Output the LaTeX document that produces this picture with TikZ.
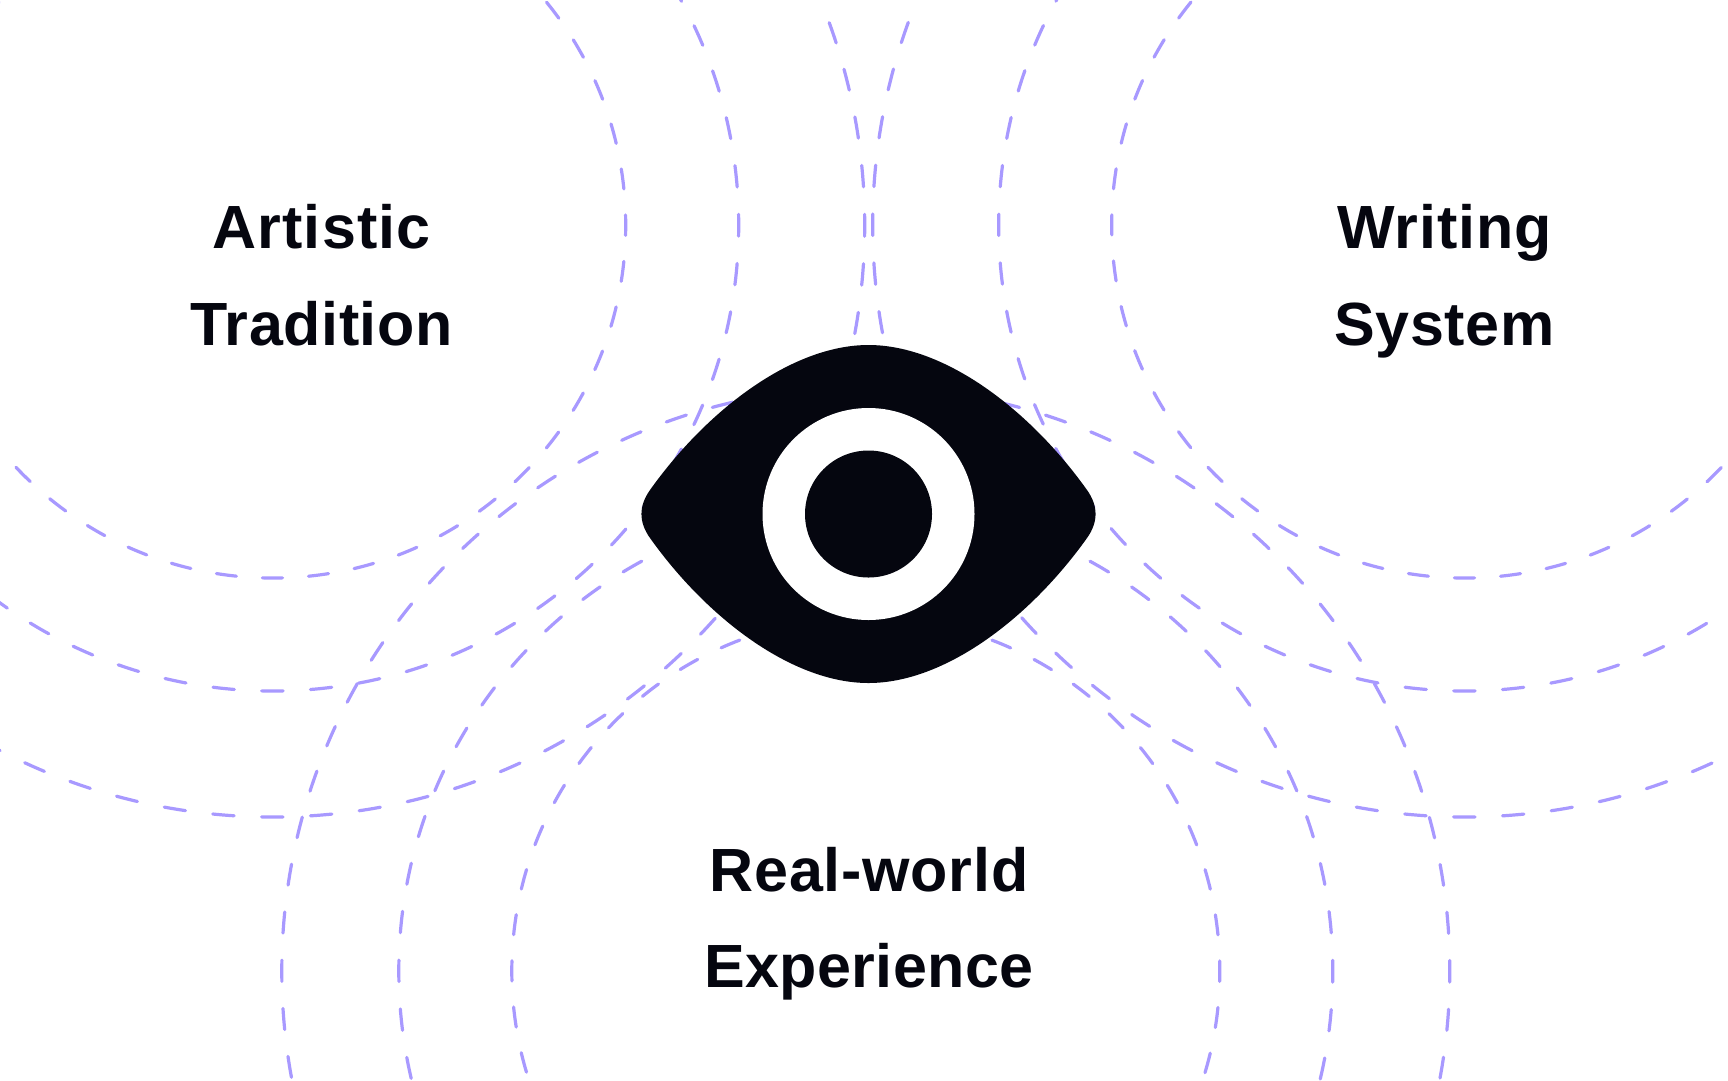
\documentclass[tikz,border=0pt]{standalone}
\usepackage{fontspec}
\setmainfont{Liberation Sans}
\definecolor{ink}{HTML}{05060F}
\definecolor{lilac}{HTML}{A899FF}
\newcommand{\spaced}[2]{{\addfontfeature{LetterSpace=#1}#2}}
\tikzset{
  x=1pt,y=-1pt,
  label text/.style={font=\fontsize{61}{96.5}\selectfont\bfseries,text=ink,align=center,inner sep=0pt,anchor=north},
}
% #1 centre x, #2 centre y, #3 radius, #4 number of dash periods
\newcommand{\dashring}[4]{%
  \pgfmathsetmacro{\perlen}{2*pi*#3/#4}%
  \pgfmathsetmacro{\onlen}{\perlen*0.5-3}%
  \pgfmathsetmacro{\offlen}{\perlen-\onlen}%
  \pgfmathsetmacro{\phaselen}{\onlen/2}%
  \draw[lilac,line width=3.2pt,line cap=round,dash pattern=on \onlen pt off \offlen pt,dash phase=\phaselen pt] (#1,#2) circle[radius=#3pt];%
}
\begin{document}
\begin{tikzpicture}
\clip (0,0) rectangle (1728,1080);
\fill[white] (0,0) rectangle (1728,1080);
\dashring{272.7}{225}{353}{48}
\dashring{272.7}{225}{466}{60}
\dashring{272.7}{225}{592}{76}
\dashring{1464.7}{225}{353}{48}
\dashring{1464.7}{225}{466}{60}
\dashring{1464.7}{225}{592}{76}
\dashring{865.8}{971}{354}{48}
\dashring{865.8}{971}{467}{60}
\dashring{865.8}{971}{584}{76}
\fill[ink] (868.5,345)
  .. controls (945,345) and (1030,410) .. (1087,490)
  .. controls (1098.4,506) and (1098.4,522) .. (1087,538)
  .. controls (1030,618) and (945,683) .. (868.5,683)
  .. controls (792,683) and (707,618) .. (650,538)
  .. controls (638.6,522) and (638.6,506) .. (650,490)
  .. controls (707,410) and (792,345) .. (868.5,345) -- cycle;
\fill[white] (868.5,514) circle[radius=106pt];
\fill[ink] (868.5,514) circle[radius=63.5pt];
\node[label text] (artistic) at (321.5,198.5) {\rule{0pt}{50pt}\spaced{2}{Artistic}\\\spaced{1}{Tradition}};
\node[label text] (writing) at (1444.5,198.5) {\rule{0pt}{50pt}\spaced{1.4}{Writing}\\\spaced{1.2}{System}};
\node[label text] (realworld) at (869,841) {\rule{0pt}{50pt}\spaced{1.3}{Real-world}\\\spaced{0.75}{Experience}};
\end{tikzpicture}
\end{document}
